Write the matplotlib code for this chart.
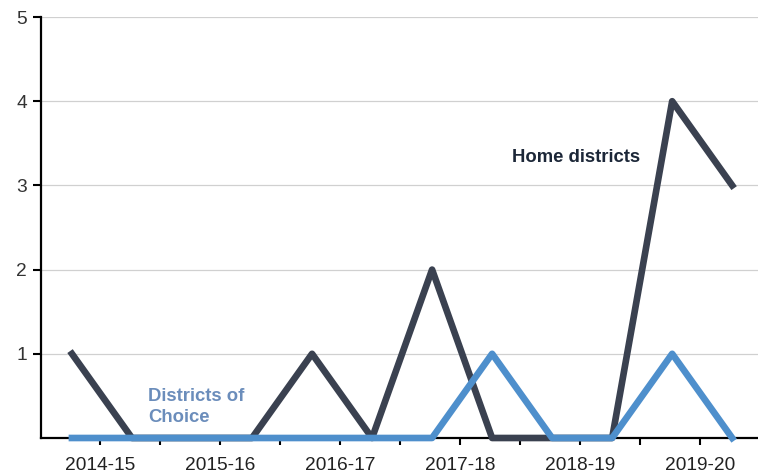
import matplotlib
matplotlib.use("Agg")
import matplotlib.pyplot as plt
import numpy as np

# Counts per half-year period, 2014-15 through 2019-20
home = [1, 0, 0, 0, 1, 0, 2, 0, 0, 0, 4, 3]
choice = [0, 0, 0, 0, 0, 0, 0, 1, 0, 0, 1, 0]
years = ["2014-15", "2015-16", "2016-17", "2017-18", "2018-19", "2019-20"]

DARK = "#3a4150"
BLUE = "#4e8fcc"
LABEL_BLUE = "#6b8dbb"

plt.rcParams["font.family"] = ["Liberation Sans", "DejaVu Sans"]

fig = plt.figure(figsize=(7.58, 4.73), dpi=100)
ax = fig.add_axes([0.054, 0.074, 0.946, 0.89])

x = np.arange(len(home))
ax.plot(x, home, color=DARK, lw=4.8, solid_joinstyle="round", clip_on=False, zorder=3)
ax.plot(x, choice, color=BLUE, lw=4.8, solid_joinstyle="round", clip_on=False, zorder=4)

ax.set_xlim(-0.517, 11.43)
ax.set_ylim(0, 5)

# ticks between points, labels under every other tick
ax.set_xticks(np.arange(len(home) - 1) + 0.467)
ax.set_xticklabels([years[i // 2] if i % 2 == 0 else "" for i in range(len(home) - 1)])
ax.set_yticks([1, 2, 3, 4, 5])
ax.tick_params(axis="x", length=5, width=1.5, labelsize=13.8, pad=9, colors="black",
               labelcolor="#222222")
ax.tick_params(axis="y", length=6, width=1.5, labelsize=13.8, pad=4, labelcolor="#333333")

ax.grid(axis="y", color="#d0d0d0", lw=0.9)
ax.set_axisbelow(True)
for side in ["top", "right"]:
    ax.spines[side].set_visible(False)
ax.spines["left"].set_linewidth(1.6)
ax.spines["bottom"].set_linewidth(1.6)

ax.text(7.33, 3.33, "Home districts", color="#1c2738", fontsize=13.3, fontweight="bold",
        va="center", ha="left")
ax.text(1.27, 0.37, "Districts of\nChoice", color=LABEL_BLUE, fontsize=13.3, fontweight="bold",
        va="center", ha="left", linespacing=1.3)

fig.savefig("out.png", dpi=100)
